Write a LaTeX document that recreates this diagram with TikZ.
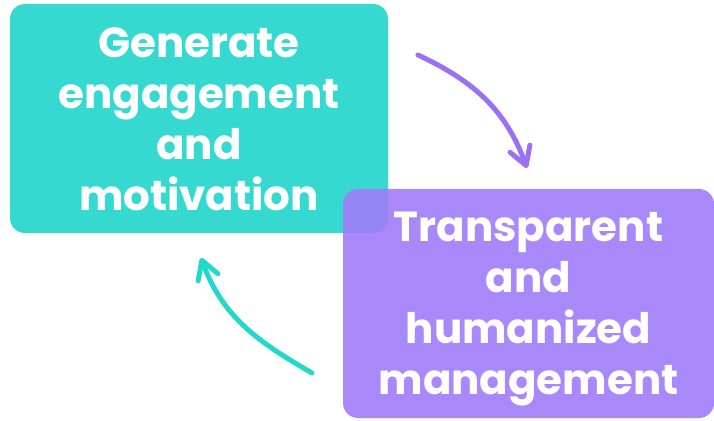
\documentclass[tikz,border=0pt]{standalone}
\usepackage{fontspec}
\setmainfont{Poppins}
\usetikzlibrary{arrows.meta, positioning}
\definecolor{boxteal}{HTML}{36D9CF}
\definecolor{boxpurple}{HTML}{A07CF8}
\definecolor{arrowteal}{HTML}{22D8C8}
\definecolor{arrowpurple}{HTML}{9B70F5}

\begin{document}
\begin{tikzpicture}[x = 1pt, y = 1pt]
  \tikzstyle{box} = [rounded corners = 15pt, minimum height = 229pt, inner sep = 0pt];
  \tikzstyle{caption} = [text = white, align = center, inner sep = 0pt, font = \fontsize{42}{51}\selectfont\bfseries];
  \tikzstyle{loop arrow} = [line width = 5pt, line cap = round, -{Straight Barb[length = 18pt, width = 21pt, round]}];

  \useasboundingbox (0,0) rectangle (714,420);

  \node[box, fill = boxteal, minimum width = 378pt] (goalbox) at (199,301.5) {};
  \node[box, fill = boxpurple, fill opacity = 0.9, minimum width = 371pt] (meansbox) at (528.5,116.5) {};

  \node[caption] (goal) at ([yshift = -1pt] goalbox.center) {Generate\\engagement\\and\\motivation};
  \node[caption] (means) at ([yshift = -6pt] meansbox.center) {Transparent\\and\\humanized\\management};

  \coordinate (p0) at (418,365);
  \coordinate (p1) at (527,252);
  \coordinate (t0) at (312,47);
  \coordinate (t1) at (201,162);

  \draw[loop arrow, arrowpurple] (p0) to[out = -25, in = 110] (p1);
  \draw[loop arrow, arrowteal] (t0) to[out = 150, in = -70] (t1);
\end{tikzpicture}
\end{document}
